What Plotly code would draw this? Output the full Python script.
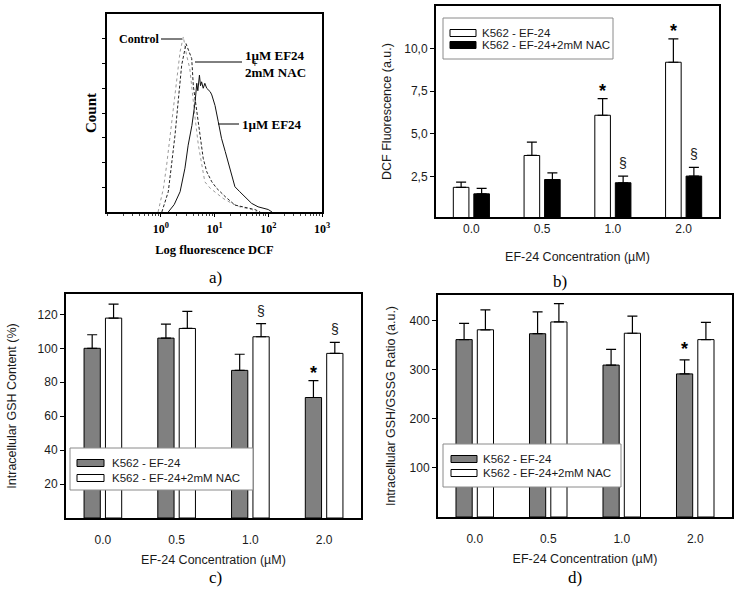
import plotly.graph_objects as go

W, H = 739, 596

# ---------------- data ----------------
# Panel a: flow-cytometry histograms (log10 of DCF fluorescence, count)
CONTROL_LOG = [-0.05, 0.05, 0.11, 0.17, 0.23, 0.30, 0.36, 0.42, 0.45, 0.48, 0.54, 0.58,
               0.64, 0.70, 0.76, 0.82, 0.92, 1.04, 1.16, 1.32, 1.47, 1.69, 1.79]
CONTROL_COUNT = [0, 0.96, 1.9, 2.98, 4.19, 5.4, 6.48, 7.08, 6.7, 6.34, 5.8, 4.86,
                 3.78, 2.7, 1.9, 1.22, 0.96, 0.76, 0.55, 0.35, 0.21, 0.1, 0]
NAC_LOG = [0.02, 0.14, 0.20, 0.265, 0.33, 0.39, 0.47, 0.52, 0.576, 0.606, 0.67, 0.73,
           0.79, 0.855, 0.95, 1.04, 1.16, 1.2, 1.38, 1.57, 1.75, 1.85]
NAC_COUNT = [0, 0.82, 1.9, 3.1, 4.6, 5.94, 6.8, 6.55, 6.2, 5.1, 4.05, 3.1,
             2.17, 1.63, 1.22, 0.96, 0.69, 0.62, 0.28, 0.19, 0.1, 0]
EF_LOG = [0.14, 0.25, 0.36, 0.45, 0.51, 0.58, 0.64, 0.67, 0.69, 0.72, 0.74, 0.76, 0.79,
          0.82, 0.855, 0.885, 0.92, 0.95, 1.01, 1.07, 1.13, 1.2, 1.29, 1.38, 1.47,
          1.57, 1.69, 1.81, 2.0, 2.07]
EF_COUNT = [0, 0.3, 0.82, 1.77, 2.7, 3.5, 4.46, 5.2, 4.9, 5.53, 5.1, 5.26, 5.0,
            5.2, 5.0, 4.93, 4.86, 4.73, 4.3, 3.65, 2.98, 2.44, 1.7, 1.02, 0.82,
            0.62, 0.35, 0.21, 0.1, 0]
A_TICKVALS = [1, 10, 100, 1000]
A_TICKTEXT = ["10<sup>0</sup>", "10<sup>1</sup>", "10<sup>2</sup>", "10<sup>3</sup>"]

CATEGORIES = ["0.0", "0.5", "1.0", "2.0"]
LEGEND_LABELS = ["K562 - EF-24", "K562 - EF-24+2mM NAC"]

# Panel b: DCF fluorescence (a.u.)
B_EF24 = [1.86, 3.73, 6.09, 9.2]
B_EF24_ERR = [0.31, 0.78, 0.98, 1.37]
B_NAC = [1.48, 2.32, 2.13, 2.52]
B_NAC_ERR = [0.32, 0.39, 0.39, 0.51]
B_TICKVALS = [2.5, 5.0, 7.5, 10.0]
B_TICKTEXT = ["2,5", "5,0", "7,5", "10,0"]
B_STARS = ["", "", "*", "*"]
B_SECT = ["", "", "§", "§"]

# Panel c: intracellular GSH content (%)
C_EF24 = [100, 106, 87, 71]
C_EF24_ERR = [8, 8.3, 9.5, 10]
C_NAC = [117.8, 111.7, 106.8, 97]
C_NAC_ERR = [8.2, 10.1, 7.7, 6.5]
C_TICKVALS = [20, 40, 60, 80, 100, 120]
C_STARS = ["", "", "", "*"]
C_SECT = ["", "", "§", "§"]

# Panel d: GSH/GSSG ratio (a.u.)
D_EF24 = [362, 374, 310, 292]
D_EF24_ERR = [33, 44.5, 32, 28.7]
D_NAC = [382, 398, 375, 362]
D_NAC_ERR = [40.6, 37.6, 35, 35]
D_TICKVALS = [100, 200, 300, 400]
D_STARS = ["", "", "", "*"]

# ---------------- helpers ----------------
SANS = "Arial, Liberation Sans, sans-serif"
SERIF = "Times New Roman, Liberation Serif, serif"
TXT = "#1a1a1a"
GRAY = "#808080"


def px(x):
    return x / W


def py(y):
    return 1 - y / H


fig = go.Figure()

# ---------------- panel a ----------------
fig.add_trace(go.Scatter(x=[10 ** v for v in CONTROL_LOG], y=CONTROL_COUNT, mode="lines",
                         line=dict(color="#9a9a9a", width=1, dash="dot"),
                         xaxis="x", yaxis="y", showlegend=False, name="Control"))
fig.add_trace(go.Scatter(x=[10 ** v for v in NAC_LOG], y=NAC_COUNT, mode="lines",
                         line=dict(color="#222", width=1, dash="3px,2px"),
                         xaxis="x", yaxis="y", showlegend=False, name="1µM EF24 + 2mM NAC"))
fig.add_trace(go.Scatter(x=[10 ** v for v in EF_LOG], y=EF_COUNT, mode="lines",
                         line=dict(color="#111", width=1),
                         xaxis="x", yaxis="y", showlegend=False, name="1µM EF24"))


def bars(xa, ya, v1, e1, c1, v2, e2, c2):
    for vals, errs, col, nm in ((v1, e1, c1, LEGEND_LABELS[0]), (v2, e2, c2, LEGEND_LABELS[1])):
        fig.add_trace(go.Bar(
            x=CATEGORIES, y=vals, name=nm, marker=dict(color=col, line=dict(color="black", width=1)),
            error_y=dict(type="data", array=errs, arrayminus=[0] * len(errs), symmetric=False,
                         color="black", thickness=1.2, width=5),
            xaxis=xa, yaxis=ya, showlegend=False, offsetgroup=nm))


bars("x2", "y2", B_EF24, B_EF24_ERR, "white", B_NAC, B_NAC_ERR, "black")
bars("x3", "y3", C_EF24, C_EF24_ERR, GRAY, C_NAC, C_NAC_ERR, "white")
bars("x4", "y4", D_EF24, D_EF24_ERR, GRAY, D_NAC, D_NAC_ERR, "white")

# ---------------- axes ----------------
box = dict(showline=True, linecolor="black", linewidth=2, mirror=True, showgrid=False,
           zeroline=False, automargin=False)
tickf = dict(family=SANS, size=12, color=TXT)
titlef = dict(family=SANS, size=12.5, color=TXT)

layout = dict(
    template="none",
    width=W, height=H, margin=dict(l=0, r=0, t=0, b=0),
    paper_bgcolor="white", plot_bgcolor="white",
    barmode="group", bargap=0.42, bargroupgap=0.24,
    xaxis=dict(domain=[px(107), px(322)], anchor="y", type="log", range=[-1, 3],
               tickvals=A_TICKVALS, ticktext=A_TICKTEXT, ticks="outside", ticklen=3,
               tickcolor="black", ticklabelstandoff=2,
               minor=dict(ticks="outside", ticklen=2, dtick="D1", tickcolor="#444", showgrid=False),
               tickfont=dict(family=SERIF, size=12, color="black", weight="bold"),
               title=dict(text="<b>Log fluorescence DCF</b>", standoff=10,
                          font=dict(family=SERIF, size=12.5, color="black")),
               **box),
    yaxis=dict(domain=[py(212), py(14)], anchor="x", range=[0, 8], tickvals=[1, 2, 3, 4, 5, 6, 7],
               showticklabels=False, ticks="outside", ticklen=3, tickcolor="black",
               title=dict(text="<b>Count</b>", standoff=2,
                          font=dict(family=SERIF, size=15, color="black")),
               **box),
    xaxis2=dict(domain=[px(436), px(719)], anchor="y2", type="category", ticks="",
                tickfont=tickf,
                title=dict(text="EF-24 Concentration (µM)", standoff=17, font=titlef), **box),
    yaxis2=dict(domain=[py(217), py(6)], anchor="x2", range=[0.12, 12.5], tickvals=B_TICKVALS,
                ticktext=B_TICKTEXT, ticks="outside", ticklen=4, tickcolor="black", tickfont=tickf,
                title=dict(text="DCF Fluorescence (a.u.)", standoff=10, font=titlef), **box),
    xaxis3=dict(domain=[px(66), px(361)], anchor="y3", type="category", ticks="",
                tickfont=tickf, ticklabelstandoff=10,
                title=dict(text="EF-24 Concentration (µM)", standoff=9, font=titlef), **box),
    yaxis3=dict(domain=[py(518), py(294)], anchor="x3", range=[0, 132], tickvals=C_TICKVALS,
                ticks="outside", ticklen=4, tickcolor="black", tickfont=tickf,
                title=dict(text="Intracellular GSH Content (%)", standoff=18, font=titlef), **box),
    xaxis4=dict(domain=[px(438), px(732)], anchor="y4", type="category", ticks="",
                tickfont=tickf, ticklabelstandoff=10,
                title=dict(text="EF-24 Concentration (µM)", standoff=9, font=titlef), **box),
    yaxis4=dict(domain=[py(517), py(295)], anchor="x4", range=[0, 453], tickvals=D_TICKVALS,
                ticks="outside", ticklen=4, tickcolor="black", tickfont=tickf,
                title=dict(text="Intracellular GSH/GSSG Ratio (a.u.)", standoff=11, font=titlef), **box),
)
fig.update_layout(**layout)

ann = []
shapes = []

# significance marks
star_font = dict(family=SANS, size=18, color="black", weight="bold")
sect_font = dict(family=SANS, size=14, color=TXT)


def marks(xa, ya, vals, errs, labels, font, offset, yshift):
    for i, lab in enumerate(labels):
        if lab:
            ann.append(dict(text=lab, x=i, xref=xa, y=vals[i] + errs[i], yref=ya, xshift=offset,
                            yanchor="bottom", yshift=yshift, showarrow=False, font=font))


bw = 10.5  # half group offset in px
marks("x2", "y2", B_EF24, B_EF24_ERR, B_STARS, star_font, -bw, -4)
marks("x2", "y2", B_NAC, B_NAC_ERR, B_SECT, sect_font, bw, 3)
marks("x3", "y3", C_EF24, C_EF24_ERR, C_STARS, star_font, -bw, -4)
marks("x3", "y3", C_NAC, C_NAC_ERR, C_SECT, sect_font, bw, 3)
marks("x4", "y4", D_EF24, D_EF24_ERR, D_STARS, star_font, -bw, -1)


# custom legends (rectangular swatches like the original)
def legend(x0, y0, x1, y1, sw_x0, sw_x1, rows, fills, text_x):
    shapes.append(dict(type="rect", xref="paper", yref="paper", x0=px(x0), x1=px(x1),
                       y0=py(y1), y1=py(y0), fillcolor="white",
                       line=dict(color="#8a8a8a", width=1), layer="above"))
    for (ry, fill, lab) in zip(rows, fills, LEGEND_LABELS):
        shapes.append(dict(type="rect", xref="paper", yref="paper", x0=px(sw_x0), x1=px(sw_x1),
                           y0=py(ry + 3.5), y1=py(ry - 3.5), fillcolor=fill,
                           line=dict(color="black", width=1), layer="above"))
        ann.append(dict(text=lab, x=px(text_x), xref="paper", y=py(ry), yref="paper",
                        xanchor="left", yanchor="middle", showarrow=False,
                        font=dict(family=SANS, size=11.5, color=TXT)))


legend(443, 18, 613, 59, 450, 476, [33, 45], ["white", "black"], 480)
legend(70, 448, 253, 490, 77, 104, [463, 478], [GRAY, "white"], 110)
legend(443, 444, 621, 487, 451, 477, [459, 473], [GRAY, "white"], 481)

# panel a labels & leader lines
bold_serif = dict(family=SERIF, size=13, color="black", weight="bold")
ann += [
    dict(text="Control", x=px(161), y=py(39), xref="paper", yref="paper", xanchor="right",
         yanchor="middle", showarrow=False, font=dict(family=SERIF, size=12, color="black", weight="bold")),
    dict(text="1µM EF24", x=px(243), y=py(55), xref="paper", yref="paper", xanchor="left",
         yanchor="middle", showarrow=False, font=bold_serif),
    dict(text="+", x=px(255), y=py(63.5), xref="paper", yref="paper", xanchor="center",
         yanchor="middle", showarrow=False, font=dict(family=SERIF, size=10, color="black", weight="bold")),
    dict(text="2mM NAC", x=px(243), y=py(72), xref="paper", yref="paper", xanchor="left",
         yanchor="middle", showarrow=False, font=bold_serif),
    dict(text="1µM EF24", x=px(240), y=py(124), xref="paper", yref="paper", xanchor="left",
         yanchor="middle", showarrow=False, font=bold_serif),
]
for (xa, xb, yy) in [(161, 182, 39), (195, 242, 62), (218, 239, 124)]:
    shapes.append(dict(type="line", xref="paper", yref="paper", x0=px(xa), x1=px(xb),
                       y0=py(yy), y1=py(yy), line=dict(color="black", width=1)))

# panel letters
for lab, x, y in [("a)", 215, 277), ("b)", 560, 281), ("c)", 215, 577), ("d)", 575, 577)]:
    ann.append(dict(text=lab, x=px(x), y=py(y), xref="paper", yref="paper", showarrow=False,
                    xanchor="center", yanchor="middle",
                    font=dict(family=SERIF, size=17, color="black")))

fig.update_layout(annotations=ann, shapes=shapes)
fig.write_html("out.html", config={"displayModeBar": False},
               post_script="document.body.style.margin='0';document.body.style.overflow='hidden';")
